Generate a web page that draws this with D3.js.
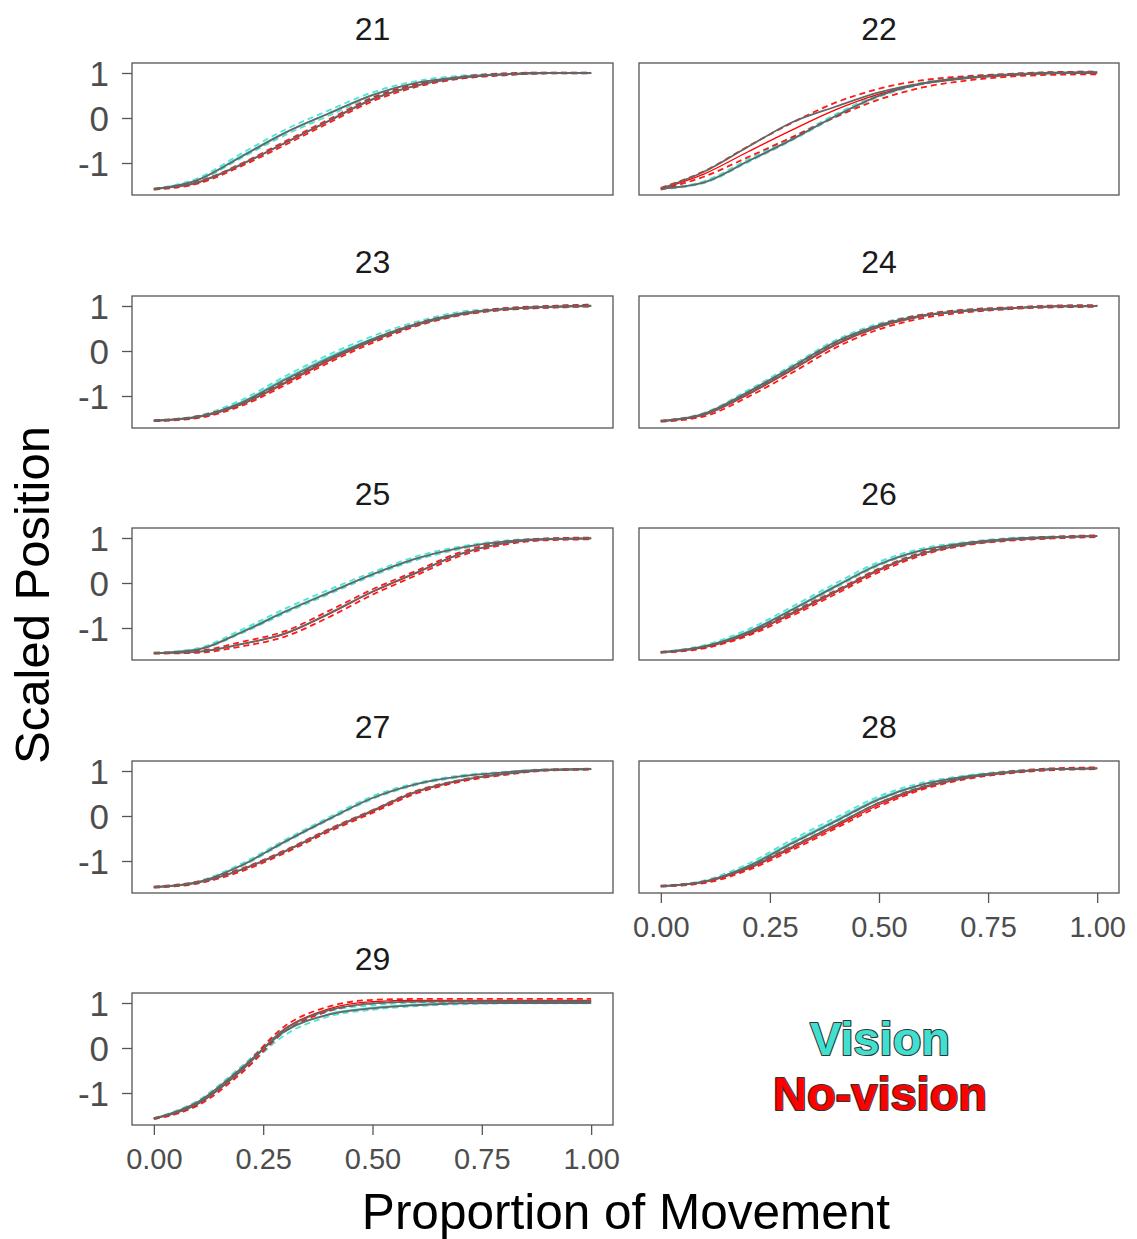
<!DOCTYPE html>
<html>
<head>
<meta charset="utf-8">
<script src="https://cdn.jsdelivr.net/npm/d3@7"></script>
<style>
  html, body { margin: 0; padding: 0; background: #fff; }
  svg { display: block; font-family: "Liberation Sans", Arial, sans-serif; }
</style>
</head>
<body>
<svg id="chart" width="1137" height="1239"></svg>
<script>
// ---------- DATA ----------
const participants = ["21", "22", "23", "24", "25", "26", "27", "28", "29"];
const tSteps = [0, 0.1, 0.2, 0.3, 0.4, 0.5, 0.6, 0.7, 0.8, 0.9, 1.0];
const xTickValues = [0, 0.25, 0.5, 0.75, 1];
const xTickLabels = ["0.00", "0.25", "0.50", "0.75", "1.00"];
const yTickValues = [1, 0, -1];
const yTickLabels = ["1", "0", "-1"];
const conditionNames = ["Vision", "No-vision"];

// observed mean trajectories (one array per participant)
const visionMean = [
  [-1.58, -1.37, -0.84, -0.32, 0.11, 0.52, 0.78, 0.91, 0.97, 1.00, 1.00],
  [-1.57, -1.42, -0.95, -0.47, 0.05, 0.50, 0.77, 0.90, 0.97, 1.01, 1.02],
  [-1.55, -1.46, -1.13, -0.61, -0.13, 0.28, 0.61, 0.84, 0.93, 0.98, 1.01],
  [-1.56, -1.39, -0.90, -0.35, 0.21, 0.58, 0.79, 0.90, 0.95, 0.99, 1.00],
  [-1.56, -1.47, -1.08, -0.62, -0.20, 0.20, 0.55, 0.78, 0.92, 0.98, 0.99],
  [-1.54, -1.40, -1.07, -0.58, -0.06, 0.43, 0.74, 0.89, 0.98, 1.02, 1.04],
  [-1.58, -1.47, -1.09, -0.56, -0.06, 0.41, 0.71, 0.88, 0.97, 1.03, 1.04],
  [-1.56, -1.45, -1.10, -0.58, -0.09, 0.40, 0.71, 0.88, 0.98, 1.04, 1.06],
  [-1.57, -1.21, -0.47, 0.36, 0.76, 0.90, 0.97, 1.00, 1.01, 1.01, 1.01]
];
const noVisionMean = [
  [-1.58, -1.44, -1.04, -0.56, -0.07, 0.41, 0.72, 0.89, 0.97, 1.00, 1.00],
  [-1.57, -1.24, -0.75, -0.27, 0.18, 0.53, 0.76, 0.88, 0.95, 0.99, 1.00],
  [-1.55, -1.47, -1.19, -0.72, -0.22, 0.22, 0.58, 0.81, 0.93, 0.98, 1.01],
  [-1.56, -1.42, -0.97, -0.43, 0.13, 0.53, 0.77, 0.89, 0.95, 0.99, 1.00],
  [-1.56, -1.53, -1.36, -1.13, -0.69, -0.20, 0.22, 0.64, 0.88, 0.97, 0.99],
  [-1.54, -1.43, -1.14, -0.69, -0.21, 0.28, 0.65, 0.86, 0.96, 1.01, 1.04],
  [-1.58, -1.48, -1.20, -0.79, -0.32, 0.10, 0.53, 0.78, 0.93, 1.02, 1.04],
  [-1.56, -1.47, -1.17, -0.72, -0.24, 0.25, 0.62, 0.84, 0.97, 1.04, 1.06],
  [-1.57, -1.25, -0.51, 0.43, 0.87, 1.03, 1.06, 1.06, 1.06, 1.06, 1.06]
];
// fitted model trajectories (grey lines)
const visionModel = [
  [-1.58, -1.38, -0.86, -0.33, 0.10, 0.51, 0.78, 0.91, 0.97, 1.00, 1.00],
  [-1.57, -1.43, -0.96, -0.48, 0.04, 0.49, 0.77, 0.90, 0.97, 1.01, 1.02],
  [-1.55, -1.46, -1.15, -0.64, -0.16, 0.26, 0.60, 0.83, 0.93, 0.98, 1.00],
  [-1.56, -1.39, -0.91, -0.36, 0.20, 0.57, 0.79, 0.90, 0.95, 0.99, 1.00],
  [-1.56, -1.48, -1.10, -0.64, -0.22, 0.19, 0.54, 0.78, 0.92, 0.98, 0.99],
  [-1.54, -1.41, -1.09, -0.60, -0.08, 0.41, 0.73, 0.89, 0.98, 1.02, 1.04],
  [-1.58, -1.47, -1.10, -0.57, -0.07, 0.40, 0.71, 0.88, 0.97, 1.03, 1.04],
  [-1.56, -1.46, -1.12, -0.61, -0.12, 0.37, 0.70, 0.88, 0.98, 1.04, 1.06],
  [-1.57, -1.20, -0.45, 0.38, 0.74, 0.88, 0.95, 0.99, 1.00, 1.00, 1.00]
];
const noVisionModel = [
  [-1.58, -1.43, -1.03, -0.55, -0.06, 0.42, 0.72, 0.89, 0.97, 1.00, 1.00],
  [-1.57, -1.19, -0.64, -0.10, 0.25, 0.57, 0.77, 0.88, 0.96, 0.99, 1.01],
  [-1.55, -1.47, -1.18, -0.70, -0.20, 0.23, 0.58, 0.81, 0.93, 0.98, 1.01],
  [-1.56, -1.41, -0.95, -0.41, 0.15, 0.54, 0.78, 0.89, 0.95, 0.99, 1.00],
  [-1.56, -1.53, -1.36, -1.12, -0.68, -0.19, 0.23, 0.64, 0.88, 0.97, 0.99],
  [-1.54, -1.42, -1.12, -0.67, -0.19, 0.30, 0.66, 0.86, 0.96, 1.01, 1.04],
  [-1.58, -1.48, -1.19, -0.78, -0.31, 0.12, 0.54, 0.79, 0.93, 1.02, 1.04],
  [-1.56, -1.46, -1.15, -0.69, -0.20, 0.29, 0.64, 0.85, 0.97, 1.04, 1.06],
  [-1.57, -1.24, -0.50, 0.42, 0.84, 0.99, 1.03, 1.04, 1.04, 1.04, 1.04]
];
// half-width of the confidence band (dashed lines)
const visionCI = [
  [0.01, 0.03, 0.05, 0.06, 0.06, 0.05, 0.04, 0.03, 0.02, 0.01, 0.01],
  [0.01, 0.02, 0.03, 0.03, 0.03, 0.03, 0.02, 0.02, 0.01, 0.01, 0.01],
  [0.01, 0.02, 0.04, 0.05, 0.05, 0.05, 0.04, 0.03, 0.02, 0.02, 0.02],
  [0.01, 0.02, 0.03, 0.03, 0.03, 0.03, 0.02, 0.02, 0.01, 0.01, 0.01],
  [0.01, 0.02, 0.04, 0.05, 0.05, 0.04, 0.04, 0.03, 0.02, 0.01, 0.01],
  [0.01, 0.02, 0.04, 0.05, 0.05, 0.04, 0.03, 0.02, 0.02, 0.01, 0.01],
  [0.01, 0.02, 0.03, 0.03, 0.03, 0.03, 0.02, 0.02, 0.01, 0.01, 0.01],
  [0.01, 0.02, 0.04, 0.05, 0.05, 0.04, 0.03, 0.02, 0.02, 0.01, 0.01],
  [0.01, 0.04, 0.06, 0.07, 0.06, 0.05, 0.04, 0.03, 0.02, 0.02, 0.02]
];
const noVisionCI = [
  [0.01, 0.02, 0.03, 0.04, 0.04, 0.04, 0.03, 0.02, 0.02, 0.01, 0.01],
  [0.02, 0.06, 0.12, 0.16, 0.16, 0.12, 0.08, 0.05, 0.03, 0.03, 0.03],
  [0.01, 0.02, 0.03, 0.04, 0.04, 0.04, 0.03, 0.02, 0.02, 0.02, 0.02],
  [0.01, 0.03, 0.05, 0.06, 0.06, 0.05, 0.04, 0.03, 0.02, 0.02, 0.02],
  [0.01, 0.02, 0.05, 0.06, 0.07, 0.06, 0.05, 0.04, 0.03, 0.02, 0.02],
  [0.01, 0.02, 0.03, 0.04, 0.04, 0.04, 0.03, 0.02, 0.02, 0.02, 0.02],
  [0.01, 0.02, 0.03, 0.03, 0.03, 0.03, 0.03, 0.02, 0.02, 0.01, 0.01],
  [0.01, 0.02, 0.03, 0.04, 0.04, 0.04, 0.03, 0.02, 0.02, 0.02, 0.02],
  [0.01, 0.03, 0.05, 0.06, 0.05, 0.04, 0.03, 0.03, 0.03, 0.03, 0.03]
];

// ---------- LAYOUT ----------
const svg = d3.select("#chart");
const colLeft = [132, 639];
const panelW = [481, 480];
const rowTop = [63, 296, 528, 761, 993];
const panelH = 132;
const colors = { vision: "#40E0D0", novision: "#FF0000", model: "#666666", text: "#4d4d4d" };
const FONT = "'Liberation Sans', Arial, sans-serif";

participants.forEach((p, i) => {
  const col = i % 2, row = Math.floor(i / 2);
  const x0 = colLeft[col], y0 = rowTop[row], w = panelW[col];
  const x = d3.scaleLinear().domain([-0.05, 1.05]).range([x0, x0 + w]);
  const y = d3.scaleLinear().domain([-1.711, 1.222]).range([y0 + panelH, y0]);
  const g = svg.append("g");

  // panel title
  g.append("text")
    .attr("x", x0 + w / 2).attr("y", y0 - 23)
    .attr("text-anchor", "middle")
    .attr("font-size", 32).attr("fill", "#1a1a1a")
    .text(p);

  const line = d3.line().x(d => x(d[0])).y(d => y(d[1])).curve(d3.curveMonotoneX);

  const series = [
    { mean: visionMean[i], model: visionModel[i], ci: visionCI[i], color: colors.vision },
    { mean: noVisionMean[i], model: noVisionModel[i], ci: noVisionCI[i], color: colors.novision }
  ];
  const clipId = "clip" + i;
  g.append("clipPath").attr("id", clipId).append("rect")
    .attr("x", x0).attr("y", y0).attr("width", w).attr("height", panelH);
  const plot = g.append("g").attr("clip-path", `url(#${clipId})`);

  series.forEach(s => {
    const upper = tSteps.map((t, k) => [t, s.mean[k] + s.ci[k]]);
    const lower = tSteps.map((t, k) => [t, s.mean[k] - s.ci[k]]);
    [upper, lower].forEach(band => {
      plot.append("path").attr("d", line(band))
        .attr("fill", "none").attr("stroke", s.color)
        .attr("stroke-width", 1.8).attr("stroke-dasharray", "6,4")
        .attr("opacity", 0.9);
    });
    plot.append("path").attr("d", line(tSteps.map((t, k) => [t, s.mean[k]])))
      .attr("fill", "none").attr("stroke", s.color).attr("stroke-width", 1.3);
  });
  series.forEach(s => {
    plot.append("path").attr("d", line(tSteps.map((t, k) => [t, s.model[k]])))
      .attr("fill", "none").attr("stroke", colors.model).attr("stroke-width", 1.8);
  });

  // panel border
  g.append("rect").attr("x", x0).attr("y", y0).attr("width", w).attr("height", panelH)
    .attr("fill", "none").attr("stroke", "#555").attr("stroke-width", 1.3);

  // y axis (left column only)
  if (col === 0) {
    const yAxis = d3.axisLeft(y).tickValues(yTickValues)
      .tickFormat((d, k) => yTickLabels[k]).tickSize(10).tickPadding(13);
    const ya = g.append("g").attr("transform", `translate(${x0},0)`).call(yAxis);
    ya.select(".domain").remove();
    ya.selectAll(".tick line").attr("stroke", "#555").attr("stroke-width", 1.3);
    ya.selectAll(".tick text").attr("font-size", 35).attr("fill", colors.text)
      .attr("font-family", FONT).attr("dy", "0.36em");
  }
  // x axis for bottom panels of each column
  if (p === "28" || p === "29") {
    const xAxis = d3.axisBottom(x).tickValues(xTickValues)
      .tickFormat((d, k) => xTickLabels[k]).tickSize(10).tickPadding(13);
    const xa = g.append("g").attr("transform", `translate(0,${y0 + panelH})`).call(xAxis);
    xa.select(".domain").remove();
    xa.selectAll(".tick line").attr("stroke", "#555").attr("stroke-width", 1.3);
    xa.selectAll(".tick text").attr("font-size", 29).attr("fill", colors.text)
      .attr("font-family", FONT);
  }
});

// axis titles
svg.append("text")
  .attr("x", 626).attr("y", 1229)
  .attr("text-anchor", "middle").attr("font-size", 49.5).attr("fill", "#000")
  .text("Proportion of Movement");
svg.append("text")
  .attr("transform", "translate(49,595) rotate(-90)")
  .attr("text-anchor", "middle").attr("font-size", 49).attr("fill", "#000")
  .text("Scaled Position");

// legend text
const legendColors = [colors.vision, colors.novision];
const legendY = [1055, 1110];
conditionNames.forEach((name, k) => {
  svg.append("text")
    .attr("x", 880).attr("y", legendY[k])
    .attr("text-anchor", "middle").attr("font-size", 47).attr("font-weight", "bold")
    .attr("fill", legendColors[k]).attr("stroke", "#333")
    .attr("stroke-width", 2.2).attr("paint-order", "stroke")
    .attr("stroke-linejoin", "round")
    .text(name);
});
</script>
</body>
</html>
